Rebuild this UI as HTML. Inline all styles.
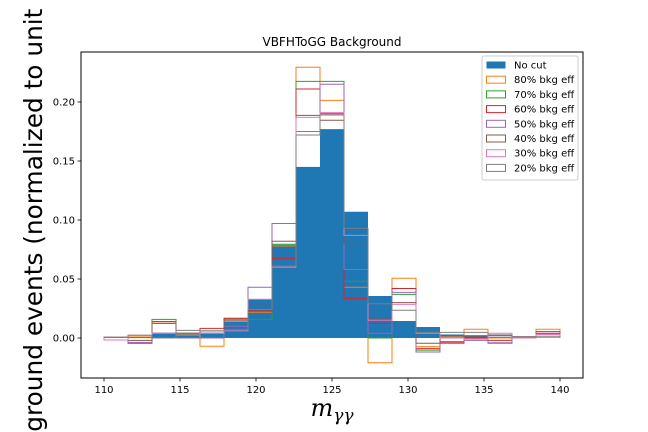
<!DOCTYPE html>
<html><head><meta charset="utf-8"><style>
html,body{margin:0;background:#fff;width:648px;height:432px;overflow:hidden}
svg{display:block;font-family:"DejaVu Sans","Liberation Sans",sans-serif;overflow:hidden}
</style></head><body>
<svg id="chart" width="648" height="432" xmlns="http://www.w3.org/2000/svg">
<rect width="648" height="432" fill="#fff"/>
<g id="marks"></g>
<rect x="81" y="52" width="502" height="326" fill="none" stroke="#000" stroke-width="1"/>
<g id="axes"></g>
<text x="332" y="46" font-size="12" text-anchor="middle">VBFHToGG Background</text>
<text x="332" y="416" font-size="24" text-anchor="middle" font-style="italic" font-family="DejaVu Serif, serif">m<tspan font-size="17" dy="5">γγ</tspan></text>
<text transform="translate(42,492) rotate(-90)" font-size="24.8" text-anchor="start">Background events (normalized to unit area)</text>
<g id="legend"></g>
</svg>
<script>
const xMin=110, xMax=140, nBins=19;
const xTicks=[110,115,120,125,130,135,140];
const yTicks=[0,0.05,0.10,0.15,0.20];
const yTickLabels=["0.00","0.05","0.10","0.15","0.20"];
const noCut=[0.0005,0.001,0.0045,0.003,0.0045,0.014,0.0328,0.079,0.145,0.177,0.107,0.0356,0.0144,0.0093,0.003,0.002,0.001,0.0005,0.0005];
const eff80=[0.0005,0.001,0.0138,0.003,-0.007,0.014,0.0218,0.078,0.2294,0.2014,0.043,-0.021,0.0506,-0.0073,0.001,0.0074,0.0,0.001,0.0074];
const eff70=[0.0005,0.0003,0.0158,0.003,0.004,0.016,0.0158,0.0794,0.2175,0.2175,0.048,0.0,0.037,-0.0103,-0.0045,0.002,-0.0045,0.001,0.0055];
const eff60=[0.0005,-0.0045,0.0124,0.004,0.0082,0.0167,0.023,0.0675,0.211,0.19,0.0336,0.0125,0.042,-0.009,-0.004,0.0,-0.002,0.001,0.004];
const eff50=[0.0005,-0.0037,0.004,0.0,0.0,0.01,0.043,0.097,0.175,0.215,0.058,0.004,0.0387,-0.0119,-0.003,-0.002,-0.004,0.001,0.0035];
const eff40=[0.0005,-0.002,0.014,0.004,0.006,0.015,0.029,0.082,0.1887,0.1845,0.080,0.017,0.03,-0.0045,0.0,0.001,0.002,0.001,0.003];
const eff30=[-0.0017,0.0023,0.004,0.0025,0.004,0.006,0.0328,0.06,0.187,0.191,0.087,0.015,0.0285,0.004,0.0,-0.001,0.004,0.0,0.003];
const eff20=[0.0005,0.0023,0.0,0.0065,0.006,0.007,0.024,0.061,0.172,0.189,0.093,0.029,0.0235,0.0048,0.0048,0.0048,0.0027,0.001,0.0015];
const seriesLabels=["80% bkg eff","70% bkg eff","60% bkg eff","50% bkg eff","40% bkg eff","30% bkg eff","20% bkg eff"];
const seriesData=[eff80,eff70,eff60,eff50,eff40,eff30,eff20];
const colors=["#ff7f0e","#2ca02c","#d62728","#9467bd","#8c564b","#e377c2","#7f7f7f"];
const NS="http://www.w3.org/2000/svg";
const X=v=>104+(v-110)*15.2;
const Y=v=>338-v*1180;
const bw=(xMax-xMin)/nBins;
function mk(t,a,p){const e=document.createElementNS(NS,t);for(const k in a)e.setAttribute(k,a[k]);p.appendChild(e);return e;}
const marks=document.getElementById('marks');
noCut.forEach((v,i)=>{
  const x0=X(xMin+i*bw),x1=X(xMin+(i+1)*bw);
  const r=mk('rect',{x:x0,y:Math.min(Y(v),Y(0)),width:x1-x0,height:Math.abs(Y(v)-Y(0)),fill:'#1f77b4'},marks);
  
  
});
seriesData.forEach((arr,s)=>{
  let d='M'+X(xMin)+','+Y(0);
  arr.forEach((v,i)=>{d+=' L'+X(xMin+i*bw)+','+Y(v)+' L'+X(xMin+(i+1)*bw)+','+Y(v);});
  d+=' L'+X(xMax)+','+Y(0);
  const p=mk('path',{d:d,fill:'none',stroke:colors[s],'stroke-width':1},marks);
  
  
});
const axes=document.getElementById('axes');
xTicks.forEach(v=>{
  mk('line',{x1:X(v),x2:X(v),y1:378,y2:381.5,stroke:'#000','stroke-width':0.8},axes);
  const t=mk('text',{x:X(v),y:393,'font-size':10,'text-anchor':'middle'},axes);t.textContent=v;
  
  
});
yTicks.forEach((v,i)=>{
  mk('line',{x1:77.5,x2:81,y1:Y(v),y2:Y(v),stroke:'#000','stroke-width':0.8},axes);
  const t=mk('text',{x:75,y:Y(v)+3.5,'font-size':10,'text-anchor':'end'},axes);t.textContent=yTickLabels[i];
  
  
});
const lg=document.getElementById('legend');


mk('rect',{x:482,y:56,width:96,height:124,rx:2,fill:'#fff','fill-opacity':0.8,stroke:'#ccc','stroke-width':1},lg);
const labels=["No cut"].concat(seriesLabels);
labels.forEach((l,i)=>{
  const y=65+i*14.7;
  const r=mk('rect',{x:486.5,y:y-3.5,width:19,height:7,fill:i==0?'#1f77b4':'none',stroke:i==0?'none':colors[i-1],'stroke-width':1},lg);
  
  
  const t=mk('text',{x:514,y:y+3.5,'font-size':10},lg);t.textContent=l;
  
  
});
</script>
</body></html>
